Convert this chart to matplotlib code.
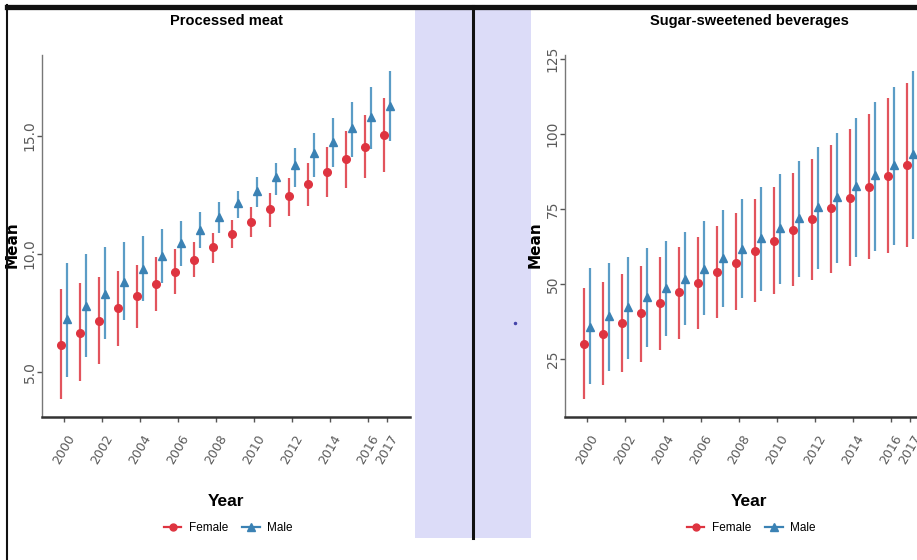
import matplotlib
matplotlib.use("Agg")
import matplotlib.pyplot as plt
from matplotlib.patches import Rectangle
from matplotlib.lines import Line2D

# -------------------------------
# Data
# -------------------------------
years = list(range(2000, 2018))
year_ticks = [2000, 2002, 2004, 2006, 2008, 2010, 2012, 2014, 2016, 2017]

# Processed meat
pm_female_mean = [6.14, 6.64, 7.18, 7.70, 8.22, 8.72, 9.22, 9.75, 10.28, 10.83, 11.37, 11.91, 12.46, 12.97, 13.49, 14.01, 14.55, 15.04]
pm_female_lo = [3.84, 4.63, 5.34, 6.10, 6.85, 7.60, 8.31, 9.01, 9.60, 10.24, 10.71, 11.16, 11.62, 12.03, 12.40, 12.78, 13.20, 13.49]
pm_female_hi = [8.50, 8.76, 9.01, 9.29, 9.53, 9.86, 10.20, 10.52, 10.90, 11.44, 12.00, 12.60, 13.20, 13.87, 14.55, 15.22, 15.89, 16.60]
pm_male_mean = [7.25, 7.81, 8.31, 8.82, 9.36, 9.92, 10.48, 11.02, 11.58, 12.15, 12.68, 13.25, 13.77, 14.29, 14.76, 15.33, 15.79, 16.27]
pm_male_lo = [4.80, 5.62, 6.39, 7.20, 8.00, 8.78, 9.49, 10.24, 10.90, 11.51, 12.00, 12.50, 12.85, 13.25, 13.70, 14.12, 14.44, 14.80]
pm_male_hi = [9.63, 10.00, 10.30, 10.50, 10.75, 11.05, 11.40, 11.80, 12.20, 12.68, 13.25, 13.84, 14.48, 15.11, 15.75, 16.45, 17.09, 17.77]

# Sugar-sweetened beverages
ssb_female_mean = [30.0, 33.3, 37.0, 40.5, 43.9, 47.3, 50.5, 54.0, 57.2, 61.2, 64.5, 68.1, 71.7, 75.3, 78.7, 82.5, 86.1, 89.8]
ssb_female_lo = [11.7, 16.4, 20.7, 24.2, 28.1, 31.7, 35.0, 38.7, 41.5, 44.2, 46.8, 49.4, 51.4, 53.9, 56.1, 58.3, 60.3, 62.3]
ssb_female_hi = [48.7, 50.9, 53.4, 56.1, 59.0, 62.3, 65.9, 69.4, 73.8, 78.3, 82.5, 87.0, 91.7, 96.4, 101.7, 106.8, 112.0, 117.2]
ssb_male_mean = [35.7, 39.4, 42.5, 45.7, 48.7, 51.9, 55.0, 58.7, 61.7, 65.3, 68.7, 72.0, 75.7, 79.2, 82.9, 86.4, 89.8, 93.4]
ssb_male_lo = [16.8, 21.2, 25.0, 29.0, 32.8, 36.4, 39.8, 42.5, 45.3, 47.9, 50.1, 52.5, 55.0, 57.0, 59.0, 61.2, 63.1, 65.0]
ssb_male_hi = [55.3, 57.0, 59.2, 62.0, 64.4, 67.5, 71.2, 74.8, 78.3, 82.5, 86.8, 91.2, 95.9, 100.5, 105.5, 110.7, 115.7, 121.2]

# -------------------------------
# Style
# -------------------------------
W, H = 917, 560
FEMALE = "#de3440"
FEMALE_LINE = "#e2545d"
MALE = "#3b82b4"
MALE_LINE = "#5b9cc6"
NARROW = ["Liberation Sans", "DejaVu Sans"]


def fx(px):
    return px / W


def fy(py):
    return 1 - py / H


fig = plt.figure(figsize=(W / 100, H / 100), dpi=100)
fig.patch.set_facecolor("white")

# screenshot frame pieces
fig.add_artist(Rectangle((fx(415), fy(538)), fx(531) - fx(415), fy(10) - fy(538),
                         transform=fig.transFigure, facecolor="#dcdcf8", edgecolor="none", zorder=0))
fig.add_artist(Line2D([fx(7), fx(917)], [fy(6.5), fy(6.5)], transform=fig.transFigure,
                      color="#111111", lw=3.8, zorder=5))
fig.add_artist(Line2D([fx(7), fx(7)], [fy(5), fy(560)], transform=fig.transFigure,
                      color="#111111", lw=1.5, zorder=5))
fig.add_artist(Line2D([fx(473), fx(473)], [fy(6), fy(538)], transform=fig.transFigure,
                      color="#111111", lw=2.2, zorder=5))
fig.add_artist(Line2D([fx(515)], [fy(323)], transform=fig.transFigure, marker="o",
                      markersize=1.5, color="#4444aa", lw=0, zorder=5))


def panel(left_px, title, f_mean, f_lo, f_hi, m_mean, m_lo, m_hi, ylim, yticks, ylabels):
    ax = fig.add_axes([fx(left_px), fy(416.7), 368 / W, (416.7 - 55) / H])
    ax.set_facecolor("none")
    dodge = 0.16
    xf = [y - dodge for y in years]
    xm = [y + dodge for y in years]
    ax.errorbar(xf, f_mean, yerr=[[m - l for m, l in zip(f_mean, f_lo)], [h - m for m, h in zip(f_mean, f_hi)]],
                fmt="o", color=FEMALE, ecolor=FEMALE_LINE, elinewidth=1.6, capsize=0, markersize=5.5)
    ax.errorbar(xm, m_mean, yerr=[[m - l for m, l in zip(m_mean, m_lo)], [h - m for m, h in zip(m_mean, m_hi)]],
                fmt="^", color=MALE, ecolor=MALE_LINE, elinewidth=1.6, capsize=0, markersize=6)

    ax.set_xlim(1998.85, 2018.22)
    ax.set_ylim(*ylim)
    ax.set_xticks(year_ticks)
    ax.set_xticklabels([str(y) for y in year_ticks], rotation=60, fontsize=9, color="#5a5a5a")
    ax.set_yticks(yticks)
    ax.set_yticklabels(ylabels, rotation=90, va="center", fontsize=10, color="#5a5a5a")
    ax.tick_params(axis="both", length=3.5, width=1, color="#555555")
    ax.tick_params(axis="x", pad=8)
    ax.tick_params(axis="y", pad=0.3)
    for s in ["top", "right"]:
        ax.spines[s].set_visible(False)
    ax.spines["left"].set_color("#777777")
    ax.spines["left"].set_linewidth(1.0)
    ax.spines["bottom"].set_color("#333333")
    ax.spines["bottom"].set_linewidth(1.8)

    cx = left_px + 184
    fig.text(fx(cx), fy(21), title, ha="center", va="center", fontsize=10.5,
             fontweight="bold", family=NARROW)
    fig.text(fx(left_px - 29.5), fy(245), "Mean", rotation=90, ha="center", va="center",
             fontsize=11, fontweight="bold")
    fig.text(fx(cx), fy(502), "Year", ha="center", va="center", fontsize=12.5,
             fontweight="bold", family=NARROW)

    handles = [Line2D([], [], color=FEMALE, marker="o", markersize=5, lw=1.6),
               Line2D([], [], color=MALE, marker="^", markersize=5.5, lw=1.6)]
    fig.legend(handles, ["Female", "Male"], loc="center", bbox_to_anchor=(fx(cx + 2), fy(528)),
               ncol=2, frameon=False, handlelength=1.5, handletextpad=0.6, columnspacing=1.2,
               prop={"family": NARROW, "size": 8.5})
    return ax


# -------------------------------
# Panel 1: Processed meat
# -------------------------------
panel(42, "Processed meat", pm_female_mean, pm_female_lo, pm_female_hi,
      pm_male_mean, pm_male_lo, pm_male_hi,
      (3.11, 18.43), [5, 10, 15], ["5.0", "10.0", "15.0"])

# -------------------------------
# Panel 2: Sugar-sweetened beverages
# -------------------------------
panel(565, "Sugar-sweetened beverages", ssb_female_mean, ssb_female_lo, ssb_female_hi,
      ssb_male_mean, ssb_male_lo, ssb_male_hi,
      (5.9, 126.4), [25, 50, 75, 100, 125], ["25", "50", "75", "100", "125"])

fig.savefig("out.png", dpi=100)
